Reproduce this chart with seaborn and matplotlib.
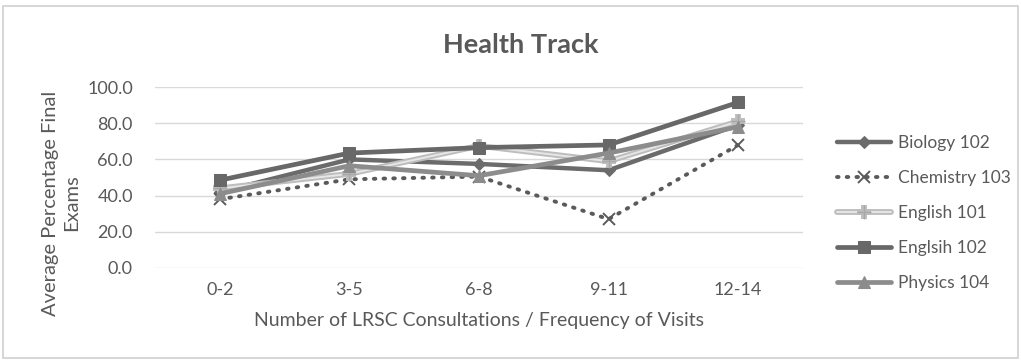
import matplotlib
matplotlib.use("Agg")
import matplotlib.pyplot as plt
import matplotlib.patheffects as pe
from matplotlib.patches import Rectangle
import seaborn as sns
import pandas as pd

visits = ["0-2", "3-5", "6-8", "9-11", "12-14"]
biology_102 = [42.0, 60.0, 57.5, 54.0, 79.0]
chemistry_103 = [38.0, 49.0, 50.5, 27.0, 68.0]
english_101 = [44.0, 52.0, 67.5, 59.0, 81.0]
englsih_102 = [48.5, 63.5, 66.5, 68.0, 91.5]
physics_104 = [41.0, 56.5, 51.0, 63.5, 78.0]

y_ticks = [0, 20, 40, 60, 80, 100]

sns.set_theme(style="white")
plt.rcParams["font.family"] = ["Lato", "DejaVu Sans"]
text_color = "#595959"

fig = plt.figure(figsize=(10.21, 3.60), dpi=100)
fig.patches.append(Rectangle((3 / 1021, 2 / 360), 1015 / 1021, 352 / 360,
                             transform=fig.transFigure, fill=False,
                             edgecolor="#d0d0d0", linewidth=1.2))
ax = fig.add_axes([155 / 1021, 92 / 360, 648 / 1021, 181 / 360])

series = [
    ("Biology 102", biology_102,
     dict(color="#6b6b6b", lw=3.2, marker="D", ms=6, mec="#6b6b6b", ls="-")),
    ("Chemistry 103", chemistry_103,
     dict(color="#5a5a5a", lw=2.8, marker="x", ms=8, mew=1.4, mec="#5a5a5a",
          ls=(0, (0.4, 2.1)), dash_capstyle="round")),
    ("English 101", english_101,
     dict(color="#e6e6e6", lw=1.4, marker="+", ms=10, mew=1.0, mec="#a8a8a8", ls="-",
          path_effects=[pe.Stroke(linewidth=4.2, foreground="#bdbdbd"), pe.Normal()])),
    ("Englsih 102", englsih_102,
     dict(color="#686868", lw=3.4, marker="s", ms=8, mec="#686868", ls="-")),
    ("Physics 104", physics_104,
     dict(color="#8c8c8c", lw=3.4, marker="^", ms=8.5, mec="#8c8c8c", ls="-")),
]

for name, vals, style in series:
    df = pd.DataFrame({"visits": visits, "score": vals})
    sns.lineplot(data=df, x="visits", y="score", ax=ax, label=name, sort=False, **style)

ax.set_xlim(-0.5, len(visits) - 0.5)
ax.set_ylim(0, 100)
ax.set_yticks(y_ticks)
ax.set_yticklabels([f"{v:.1f}" for v in y_ticks])
ax.yaxis.grid(True, color="#d9d9d9", linewidth=1.0)
ax.set_axisbelow(True)
for s in ax.spines.values():
    s.set_visible(False)
ax.tick_params(axis="both", length=0, labelsize=13, colors=text_color)
ax.tick_params(axis="y", pad=16)
ax.tick_params(axis="x", pad=10)

ax.set_xlabel("Number of LRSC Consultations / Frequency of Visits", fontsize=14,
              color=text_color, labelpad=10)
ax.set_ylabel("")
fig.text(61 / 1021, 1 - 203 / 360, "Average Percentage Final\nExams", rotation=90,
         ha="center", va="center", multialignment="center", fontsize=14.5,
         color=text_color, linespacing=1.35)

fig.text(0.51, 0.875, "Health Track", ha="center", va="center", fontsize=19.5,
         fontweight="bold", color=text_color)

handles, labels = ax.get_legend_handles_labels()
leg = ax.legend(handles, labels, loc="center left", bbox_to_anchor=(1.029, 0.304),
                frameon=False, fontsize=12.5, handlelength=3.1, handletextpad=0.4,
                labelspacing=1.1, labelcolor=text_color)

fig.savefig("out.png", dpi=100, facecolor="white")
